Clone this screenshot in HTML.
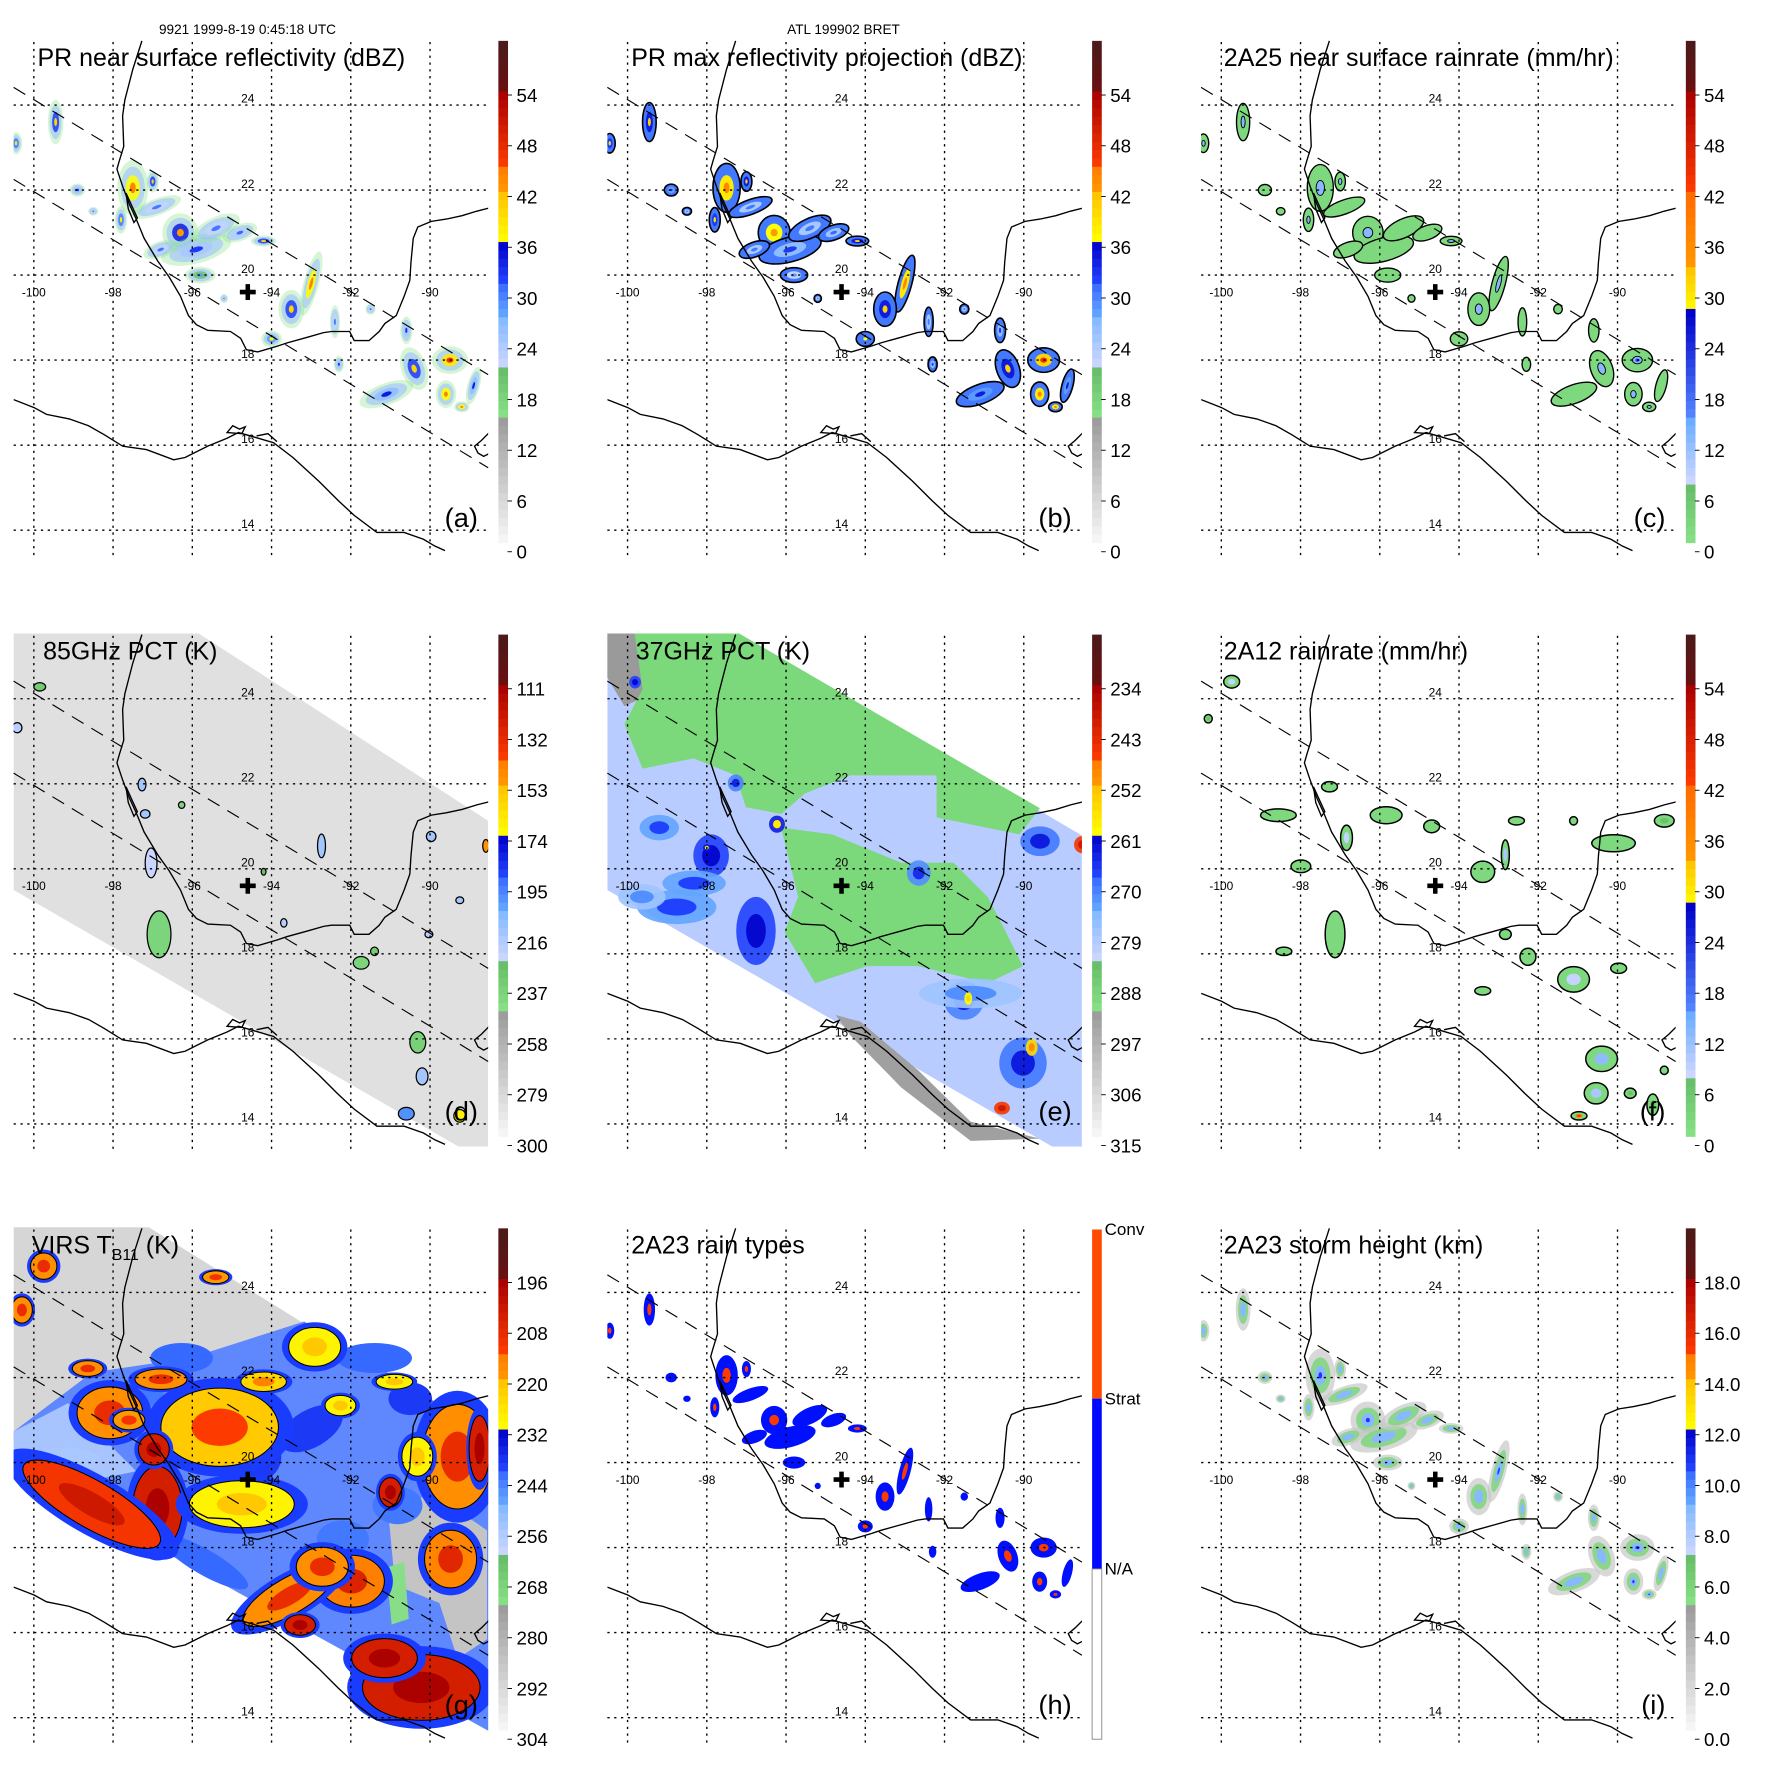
<!DOCTYPE html>
<html><head><meta charset="utf-8"><title>TRMM Hurricane Bret panels</title>
<style>html,body{margin:0;padding:0;background:#fff}svg{display:block;font-family:"Liberation Sans",Arial,sans-serif}</style>
</head><body>
<svg id="fig" xmlns="http://www.w3.org/2000/svg" width="1771" height="1771" viewBox="0 0 1560 1560">
<defs><clipPath id="clipMap" clipPathUnits="userSpaceOnUse"><rect x="12" y="35" width="418" height="452"/></clipPath></defs>
<rect x="0" y="0" width="1560" height="1560" fill="#fff"/>
<text x="218" y="30" font-size="12" text-anchor="middle">9921 1999-8-19 0:45:18 UTC</text>
<text x="743" y="30" font-size="12" text-anchor="middle">ATL 199902 BRET</text>
</svg>
<script>
// ---------- data arrays ----------
const stormLon=[-99.45,-100.45,-98.9,-98.5,-97.5,-97.0,-97.8,-96.9,-96.3,-95.9,-95.4,-96.8,-94.8,-94.2,-95.8,-93.0,-93.5,-94.0,-92.4,-91.5,-90.6,-90.4,-91.1,-89.5,-89.6,-88.9,-89.2,-92.3,-95.2];
const stormLat=[23.6,23.1,22.0,21.5,22.05,22.2,21.3,21.6,21.0,20.6,21.1,20.6,21.0,20.8,20.0,19.8,19.2,18.5,18.9,19.2,18.7,17.8,17.2,18.0,17.2,17.4,16.9,17.9,19.45];
const stormRx=[0.15,0.12,0.15,0.1,0.3,0.12,0.12,0.5,0.35,0.7,0.5,0.35,0.35,0.25,0.3,0.15,0.25,0.2,0.1,0.1,0.12,0.25,0.55,0.35,0.2,0.12,0.15,0.1,0.08];
const stormRy=[0.4,0.2,0.12,0.08,0.5,0.2,0.25,0.15,0.35,0.25,0.2,0.15,0.15,0.1,0.15,0.6,0.35,0.15,0.3,0.1,0.25,0.4,0.2,0.25,0.25,0.35,0.1,0.15,0.08];
const stormRot=[0,0,0,0,0,0,0,-20,0,-15,-25,-20,-20,0,0,15,0,0,0,0,0,-20,-20,0,0,15,0,0,0];
const stormZ=[40,38,33,30,44,40,38,30,42,32,30,30,31,40,28,44,40,36,30,30,32,40,34,46,44,34,44,32,30];
const dLon=[-99.85,-100.42,-97.27,-97.19,-97.04,-96.27,-92.74,-89.97,-89.25,-90.03,-96.84,-91.74,-91.4,-90.31,-90.2,-90.6,-89.25,-88.59,-93.69,-94.2];
const dLat=[24.28,23.32,21.98,21.29,20.14,21.5,20.54,20.76,19.26,18.46,18.46,17.79,18.06,15.92,15.12,14.24,14.19,20.54,18.73,19.93];
const dRx=[0.15,0.12,0.1,0.12,0.15,0.08,0.1,0.12,0.1,0.1,0.3,0.2,0.1,0.2,0.15,0.2,0.15,0.08,0.08,0.06];
const dRy=[0.1,0.12,0.15,0.1,0.35,0.08,0.28,0.12,0.08,0.08,0.55,0.15,0.1,0.25,0.2,0.15,0.15,0.15,0.1,0.08];
const dV=[235,220,215,215,225,240,215,215,215,220,240,240,235,238,215,200,170,150,220,230];
const eLon=[-99.2,-97.89,-96.76,-98.76,-89.59,-88.53,-92.65,-91.51,-90.02,-90.55,-91.34,-97.27,-96.23,-99.81,-98.32,-99.64,-89.8,-91.4,-98.0];
const eLat=[20.97,20.31,18.54,19.1,20.65,20.57,19.9,16.9,15.43,14.37,17.07,22.02,21.05,24.39,19.66,19.34,15.8,16.95,20.5];
const eRx=[0.5,0.45,0.5,1.0,0.5,0.2,0.3,0.5,0.6,0.2,1.3,0.2,0.2,0.15,0.8,0.6,0.15,0.1,0.1];
const eRy=[0.3,0.5,0.8,0.4,0.35,0.2,0.3,0.45,0.6,0.15,0.35,0.2,0.2,0.15,0.3,0.3,0.2,0.15,0.08];
const eV=[268,262,262,268,264,240,266,265,264,240,272,265,258,262,268,272,250,255,258];
const fLon=[-99.74,-100.33,-98.56,-97.27,-95.84,-94.69,-96.84,-97.99,-97.13,-98.42,-92.55,-93.4,-92.83,-91.11,-90.1,-88.82,-92.83,-92.26,-91.11,-89.97,-93.4,-90.4,-90.54,-90.97,-89.11,-88.82,-89.68];
const fLat=[24.4,23.53,21.26,21.93,21.26,21.0,20.73,20.06,18.46,18.06,21.13,19.93,20.33,21.13,20.6,21.13,18.46,17.93,17.4,17.66,17.13,15.53,14.72,14.19,14.45,15.26,14.72];
const fRx=[0.2,0.1,0.45,0.2,0.4,0.2,0.15,0.25,0.25,0.2,0.2,0.3,0.1,0.1,0.55,0.25,0.15,0.2,0.4,0.2,0.2,0.4,0.3,0.2,0.15,0.1,0.15];
const fRy=[0.15,0.1,0.15,0.12,0.2,0.15,0.3,0.15,0.55,0.1,0.1,0.25,0.35,0.1,0.2,0.15,0.12,0.2,0.3,0.12,0.1,0.3,0.25,0.1,0.25,0.1,0.12];
const fR=[8,6,3,3,4,3,8,4,4,3,3,3,10,3,4,6,3,3,8,4,3,12,10,40,6,3,6];
// VIRS: blue patches first, then cold tops
const gLon=[-94.38,-96.27,-91.4,-90.82,-95.7,-99.13,-93.0,-97.5,-90.5,-92.2,-96.88,-98.54,-95.31,-94.75,-98.08,-96.97,-92.91,-92.26,-89.31,-88.75,-90.32,-89.48,-91.98,-93.55,-92.72,-93.28,-90.22,-91.15,-99.75,-100.3,-95.41,-98.64,-96.79,-94.2,-91.0,-90.9,-97.6];
const gLat=[20.14,22.46,22.46,18.99,17.66,20.06,20.8,21.6,21.5,18.2,18.93,19.02,20.83,19.02,21.17,20.31,22.72,21.34,20.14,20.33,20.14,17.73,17.21,16.86,17.55,16.18,14.71,15.4,24.62,23.59,24.36,22.21,21.96,21.9,19.3,21.9,21.0];
const gRx=[0.57,0.72,0.86,0.57,1.15,0.72,0.8,0.7,0.5,0.6,0.54,1.72,1.29,1.15,0.72,0.34,0.57,0.34,0.77,0.23,0.34,0.57,0.72,1.15,0.57,0.34,1.29,0.72,0.29,0.23,0.29,0.34,0.57,0.5,0.25,0.4,0.35];
const gRy=[0.53,0.32,0.32,0.4,0.27,0.27,0.4,0.3,0.35,0.4,0.85,0.48,0.8,0.48,0.53,0.32,0.4,0.21,1.07,0.67,0.4,0.59,0.53,0.37,0.4,0.21,0.67,0.4,0.27,0.27,0.13,0.16,0.21,0.2,0.3,0.15,0.2];
const gRot=[0,0,0,0,30,0,-30,0,0,0,0,30,0,0,0,0,0,0,0,0,0,0,0,-30,0,0,0,0,0,0,0,0,0,0,0,0,0];
const gV=[240,242,242,244,242,256,240,244,240,244,205,212,222,230,218,205,230,230,218,205,230,216,215,218,218,205,205,205,218,218,220,218,218,224,205,230,220];
const lonTicks=[-100,-98,-96,-94,-92,-90];
const latTicks=[14,16,18,20,22,24];
const labA=['0','6','12','18','24','30','36','42','48','54'];
const labD=['300','279','258','237','216','195','174','153','132','111'];
const labE=['315','306','297','288','279','270','261','252','243','234'];
const labG=['304','292','280','268','256','244','232','220','208','196'];
const labI=['0.0','2.0','4.0','6.0','8.0','10.0','12.0','14.0','16.0','18.0'];
const stormCentre=[-94.6,19.6];

// ---------- helpers ----------
const NS='http://www.w3.org/2000/svg';
const svg=document.getElementById('fig');
function mk(tag,attrs,parent){const e=document.createElementNS(NS,tag);for(const k in attrs)e.setAttribute(k,attrs[k]);parent.appendChild(e);return e;}
function X(lon){return 29.8+(lon+100)*34.9;}
function Y(lat){return 92.5+(24-lat)*37.45;}
function hex(c){return [parseInt(c.substr(1,2),16),parseInt(c.substr(3,2),16),parseInt(c.substr(5,2),16)];}
function lerp(c0,c1,f){const a=hex(c0),b=hex(c1);return 'rgb('+a.map((v,i)=>Math.round(v+(b[i]-v)*f)).join(',')+')';}
const SEG_STD=[[0,.25,'#f8f8f8','#9a9a9a'],[.25,.35,'#88e288','#66bb66'],[.35,.45,'#d0d8ff','#80b8ff'],[.45,.52,'#66aaff','#3366ff'],[.52,.6,'#2244ff','#0000c8'],[.6,.7,'#ffff00','#ffc000'],[.7,.75,'#ff9900','#ff7a00'],[.75,.9,'#ff3c00','#a80000'],[.9,1.001,'#6a1010','#4a1a1a']];
const SEG_C=[[0,.12,'#88e288','#66bb66'],[.12,.25,'#d0d8ff','#66aaff'],[.25,.46,'#5588ff','#0000c8'],[.46,.55,'#ffff00','#ffc000'],[.55,.7,'#ff9900','#ff6a00'],[.7,.9,'#ff3c00','#a80000'],[.9,1.001,'#6a1010','#4a1a1a']];
function pal(seg,t){t=Math.max(0,Math.min(1,t));for(const s of seg){if(t>=s[0]&&t<s[1])return lerp(s[2],s[3],(t-s[0])/(s[1]-s[0]));}return seg[seg.length-1][3];}
function ell(p,lon,lat,rx,ry,rot,sc,fill,stroke,sw,op){
  const cx=X(lon),cy=Y(lat);
  const e=mk('ellipse',{cx:cx.toFixed(1),cy:cy.toFixed(1),rx:(rx*34.9*sc).toFixed(1),ry:(ry*37.45*sc).toFixed(1),transform:'rotate('+rot+' '+cx.toFixed(1)+' '+cy.toFixed(1)+')',fill:fill},p);
  if(stroke){e.setAttribute('stroke',stroke);e.setAttribute('stroke-width',sw);}
  if(op!==undefined)e.setAttribute('opacity',op);
  return e;
}
const GULF='M125,36 L117,61 L110,88 L108,102 L109,129 L105,142 L103,149 L108,164 L114,180 L120,193 L127,210 L139,230 L149,244 L159,261 L166,278 L173,286 L183,291 L203,292 L212,298 L217,308 L227,310 L244,305 L253,302 L271,297 L285,293 L292,292 L308,292 L312,300 L325,300 L334,292 L339,285 L349,278 L356,261 L361,247 L362,231 L364,210 L368,200 L380,195 L393,193 L407,190 L420,186 L432,183';
const PAC='M12,352 L30,359 L41,365 L61,369 L78,375 L92,383 L108,393 L129,396 L153,405 L163,403 L183,393 L200,386 L210,381 L224,385 L241,390 L258,403 L281,424 L298,441 L312,454 L332,469 L356,469 L373,475 L383,481 L392,485';
const ISLE='M200,381 L205,375 L211,378 L216,376 L213,382 Z M226,384 L236,382 L244,389';
const BELIZE='M432,380 L424,388 L418,393 L421,399 L426,402 L432,399';
const LAGUNA='M111,170 L116,181 L121,192 L118,196 L113,184 Z';

const panels=[
 {id:'a',c:0,r:0,title:'PR near surface reflectivity (dBZ)',tx:33,lab:labA,seg:SEG_STD},
 {id:'b',c:1,r:0,title:'PR max reflectivity projection (dBZ)',tx:33,lab:labA,seg:SEG_STD},
 {id:'c',c:2,r:0,title:'2A25 near surface rainrate (mm/hr)',tx:32,lab:labA,seg:SEG_C},
 {id:'d',c:0,r:1,title:'85GHz PCT (K)',tx:38,lab:labD,seg:SEG_STD},
 {id:'e',c:1,r:1,title:'37GHz PCT (K)',tx:37,lab:labE,seg:SEG_STD},
 {id:'f',c:2,r:1,title:'2A12 rainrate (mm/hr)',tx:32,lab:labA,seg:SEG_C},
 {id:'g',c:0,r:2,title:'VIRS',tx:28,lab:labG,seg:SEG_STD},
 {id:'h',c:1,r:2,title:'2A23 rain types',tx:33,lab:null,seg:null},
 {id:'i',c:2,r:2,title:'2A23 storm height (km)',tx:32,lab:labI,seg:SEG_STD}
];

function drawData(p,d){
  const N=stormLon.length;
  if(p.id==='a'){for(let i=0;i<N;i++){
    ell(d,stormLon[i],stormLat[i],stormRx[i],stormRy[i],stormRot[i],1.3,'#88e288',null,0,0.35);
    ell(d,stormLon[i],stormLat[i],stormRx[i],stormRy[i],stormRot[i],1.0,'#9cc0ff',null,0,0.6);
    ell(d,stormLon[i],stormLat[i],stormRx[i],stormRy[i],stormRot[i],0.6,pal(SEG_STD,(stormZ[i]-8)/60),null,0,0.85);
    ell(d,stormLon[i],stormLat[i],stormRx[i],stormRy[i],stormRot[i],0.25,pal(SEG_STD,stormZ[i]/60));}}
  if(p.id==='b'){for(let i=0;i<N;i++){
    ell(d,stormLon[i],stormLat[i],stormRx[i],stormRy[i],stormRot[i],1.15,pal(SEG_STD,0.5),'#000',1.4);
    ell(d,stormLon[i],stormLat[i],stormRx[i],stormRy[i],stormRot[i],0.6,pal(SEG_STD,(stormZ[i]-6)/60));
    ell(d,stormLon[i],stormLat[i],stormRx[i],stormRy[i],stormRot[i],0.25,pal(SEG_STD,stormZ[i]/60));}}
  if(p.id==='c'){for(let i=0;i<N;i++){
    ell(d,stormLon[i],stormLat[i],stormRx[i],stormRy[i],stormRot[i],1.1,'#7ed87e','#000',1.2);
    if(stormZ[i]>=38)ell(d,stormLon[i],stormLat[i],stormRx[i],stormRy[i],stormRot[i],0.35,'#88b8ff','#000',0.8);
    if(stormZ[i]>=46)ell(d,stormLon[i],stormLat[i],stormRx[i],stormRy[i],stormRot[i],0.15,'#2244ff');}}
  if(p.id==='h'){for(let i=0;i<N;i++){
    ell(d,stormLon[i],stormLat[i],stormRx[i],stormRy[i],stormRot[i],0.95,'#0010ff');
    if(stormZ[i]>=36)ell(d,stormLon[i],stormLat[i],stormRx[i],stormRy[i],stormRot[i],0.35,'#ff3a00');}}
  if(p.id==='i'){for(let i=0;i<N;i++){
    ell(d,stormLon[i],stormLat[i],stormRx[i],stormRy[i],stormRot[i],1.25,'#c8c8c8',null,0,0.7);
    ell(d,stormLon[i],stormLat[i],stormRx[i],stormRy[i],stormRot[i],0.85,'#7fd67f',null,0,0.85);
    ell(d,stormLon[i],stormLat[i],stormRx[i],stormRy[i],stormRot[i],0.45,'#88b8ff');
    if(stormZ[i]>=42)ell(d,stormLon[i],stormLat[i],stormRx[i],stormRy[i],stormRot[i],0.15,'#2233ff');}}
  if(p.id==='d'){
    const sw=mk('path',{d:'M12,35 L175,35 L430,200 L430,487 L404,487 L12,261 Z',fill:'#e0e0e0'},d);
    
    
    for(let i=0;i<dLon.length;i++){
      ell(d,dLon[i],dLat[i],dRx[i],dRy[i],0,1,pal(SEG_STD,(300-dV[i])/210),'#000',1.1);}}
  if(p.id==='e'){
    const sw=mk('path',{d:'M12,35 L128,35 L430,213 L430,487 L404,487 L12,261 Z',fill:'#b9ccff'},d);
    
    
    mk('path',{d:'M9,35 L36,35 L73,78 L27,99 L9,69 Z',fill:'#9a9a9a'},d);
    mk('path',{d:'M36,35 L128,35 L393,189 L375,212 L302,197 L302,160 L226,160 L186,176 L165,194 L134,188 L125,160 L88,145 L43,154 L27,115 L43,84 Z',fill:'#7bd87b'},d);
    mk('path',{d:'M165,206 L210,212 L271,237 L317,237 L347,267 L363,298 L378,328 L347,343 L286,328 L241,328 L195,343 L168,298 L180,267 Z',fill:'#7bd87b'},d);
    mk('path',{d:'M213,371 L235,377 L286,420 L332,465 L393,480 L332,482 L271,435 L226,389 Z',fill:'#a0a0a0'},d);
    for(let i=0;i<eLon.length;i++){
      ell(d,eLon[i],eLat[i],eRx[i],eRy[i],0,1,pal(SEG_STD,(315-eV[i]-6)/90),null,0,0.9);
      ell(d,eLon[i],eLat[i],eRx[i],eRy[i],0,0.5,pal(SEG_STD,(315-eV[i])/90));}}
  if(p.id==='f'){for(let i=0;i<fLon.length;i++){
    ell(d,fLon[i],fLat[i],fRx[i],fRy[i],0,1,'#7ed87e','#000',1.3);
    if(fR[i]>=6)ell(d,fLon[i],fLat[i],fRx[i],fRy[i],0,0.45,pal(SEG_C,fR[i]/60));
    if(fR[i]>=30)ell(d,fLon[i],fLat[i],fRx[i],fRy[i],0,0.2,'#ff2000');}}
  if(p.id==='g'){
    const sw=mk('path',{d:'M12,30 L123,30 L431,221 L431,479 L12,248 Z',fill:'#d6d6d6'},d);
    
    
    mk('path',{d:'M12,215 L81,163 L168,150 L268,118 L431,218 L431,479 L13,248 Z',fill:'#5f88ff'},d);
    mk('path',{d:'M12,215 L60,190 L120,250 L60,262 L12,248 Z',fill:'#a8c4ff'},d);
    mk('path',{d:'M342,286 L381,269 L429,302 L429,398 L403,415 L387,366 L348,350 Z',fill:'#c4c4c4'},d);
    mk('path',{d:'M340,335 L356,330 L360,380 L345,385 Z',fill:'#88dd88'},d);
    for(let i=0;i<gLon.length;i++){
      const t=(304-gV[i])/120;
      if(gV[i]<236){
        ell(d,gLon[i],gLat[i],gRx[i],gRy[i],gRot[i],1.45,'#1a3cff');
        ell(d,gLon[i],gLat[i],gRx[i],gRy[i],gRot[i],1.15,pal(SEG_STD,t),'#000',0.9);
        ell(d,gLon[i],gLat[i],gRx[i],gRy[i],gRot[i],0.55,pal(SEG_STD,t+0.07));
      } else {
        ell(d,gLon[i],gLat[i],gRx[i],gRy[i],gRot[i],1.1,pal(SEG_STD,t));
      }}}
}

for(const p of panels){
  const ox=p.c*523, oy=p.r*523;
  const g=mk('g',{transform:'translate('+ox+','+oy+')'},svg);
  
  
  const body=mk('g',{'clip-path':'url(#clipMap)'},g);
  
  
  const data=mk('g',{},body);
  
  
  drawData(p,data);
  const coast=mk('g',{fill:'none',stroke:'#000','stroke-width':1.2},body);
  
  
  for(const dd of [GULF,PAC,ISLE,BELIZE,LAGUNA])mk('path',{d:dd},coast);
  const grid=mk('g',{stroke:'#000','stroke-width':1.2,'stroke-dasharray':'2,4',fill:'none'},g);
  
  
  for(const lo of lonTicks)mk('line',{x1:X(lo),x2:X(lo),y1:37,y2:490},grid);
  for(const la of latTicks)mk('line',{x1:12,x2:430,y1:Y(la),y2:Y(la)},grid);
  const sw=mk('g',{stroke:'#000','stroke-width':1,'stroke-dasharray':'12,8'},g);
  
  
  mk('line',{x1:12,y1:77,x2:430,y2:330},sw);
  mk('line',{x1:12,y1:158,x2:430,y2:412},sw);
  for(const lo of lonTicks){const t=mk('text',{x:X(lo),y:261,'font-size':10.5,'text-anchor':'middle'},g);t.textContent=String(lo);
    
    }
  for(const la of latTicks){const t=mk('text',{x:X(-94.6),y:Y(la)-2,'font-size':10.5,'text-anchor':'middle'},g);t.textContent=String(la);
    
    }
  const cx=X(stormCentre[0]),cy=Y(stormCentre[1]);
  const cr=mk('path',{d:'M'+(cx-7)+','+cy+' h14 M'+cx+','+(cy-7)+' v14',stroke:'#000','stroke-width':4},g);
  
  
  const tt=mk('text',{x:p.tx,y:58,'font-size':22},g);
  
  
  if(p.id==='g'){tt.textContent='VIRS T';const s=mk('tspan',{'font-size':14,dy:6},tt);s.textContent='B11';const s2=mk('tspan',{dy:-6},tt);s2.textContent=' (K)';}
  else tt.textContent=p.title;
  const pl=mk('text',{x:421,y:464,'font-size':24,'text-anchor':'end'},g);
  pl.textContent='('+p.id+')';
  
  
  const cb=mk('g',{},g);
  
  
  if(p.seg){
    const n=60,top=36,bot=478,h=(bot-top)/n;
    for(let k=0;k<n;k++){mk('rect',{x:439,y:(bot-(k+1)*h).toFixed(2),width:8.5,height:(h+0.4).toFixed(2),fill:pal(p.seg,(k+0.5)/n)},cb);}
    p.lab.forEach((s,i)=>{const y=486-i*44.7;
      mk('line',{x1:447,x2:451,y1:y,y2:y,stroke:'#000','stroke-width':0.8},cb);
      const t=mk('text',{x:455,y:y+6,'font-size':16.5},cb);t.textContent=s;
      
      });
  } else {
    mk('rect',{x:439,y:37,width:8.5,height:149,fill:'#ff4a00'},cb);
    mk('rect',{x:439,y:186,width:8.5,height:150,fill:'#0008ff'},cb);
    mk('rect',{x:439,y:336,width:8.5,height:150,fill:'#fff',stroke:'#888','stroke-width':0.8},cb);
    [['Conv',37],['Strat',186],['N/A',336]].forEach(a=>{const t=mk('text',{x:450,y:a[1]+5,'font-size':15},cb);t.textContent=a[0];
      
      });
  }
}
</script>
</body></html>
